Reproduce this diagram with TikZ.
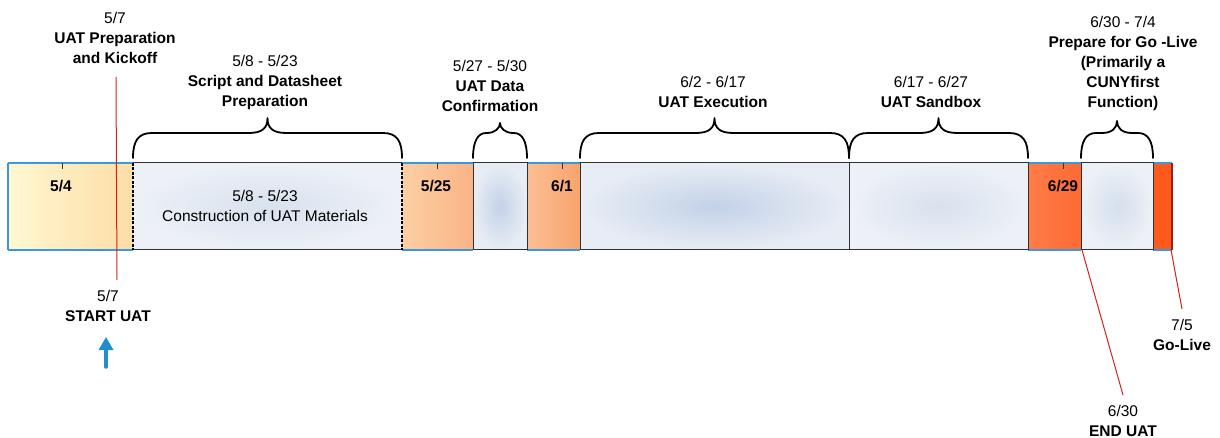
\documentclass[tikz,border=0pt]{standalone}
\usepackage{fontspec}
\setmainfont{Liberation Sans}
\usetikzlibrary{arrows.meta}
\definecolor{yl1}{HTML}{FFF8D2}
\definecolor{yl2}{HTML}{FCDDA5}
\definecolor{orA1}{HTML}{FDCFA3}
\definecolor{orA2}{HTML}{F9B487}
\definecolor{orB1}{HTML}{FBBE93}
\definecolor{orB2}{HTML}{F8A46E}
\definecolor{rdA1}{HTML}{FF7C48}
\definecolor{rdA2}{HTML}{FE6A33}
\definecolor{rdB}{HTML}{FF5A1E}
\definecolor{edgeblue}{HTML}{3A9AD9}
\definecolor{boxline}{HTML}{2E3236}
\definecolor{redln}{HTML}{D0241A}
\definecolor{arrowblue}{HTML}{1E8FCB}
\definecolor{bxout}{HTML}{E8EDF5}
\definecolor{bxin}{HTML}{C3D1E7}
\definecolor{bxlight}{HTML}{EDF1F7}
\definecolor{bxlightin}{HTML}{D8E1EE}
\begin{document}
\begin{tikzpicture}[x=1pt,y=-1pt,
  lbl/.style={align=center, font=\fontsize{15.5}{20}\selectfont, inner sep=0pt, anchor=base},
  barlbl/.style={font=\fontsize{15.5}{20}\selectfont\bfseries, inner sep=0pt, anchor=base},
  boxedge/.style={draw=boxline, line width=1pt},
  bracestyle/.style={draw=black, line width=1.8pt, line join=round, line cap=round},
  redline/.style={draw=redln, line width=1pt},
  tickmark/.style={draw=black!80, line width=0.9pt},
  bluedge/.style={draw=edgeblue, line width=1.3pt}]
\useasboundingbox[fill=white] (0,0) rectangle (1220,438);

% ---- bar segments ----
\path[left color=yl1, right color=yl2] (8,163) rectangle (133,250);
\path[left color=orA1, right color=orA2] (402,163) rectangle (473,250);
\path[left color=orB1, right color=orB2] (527,163) rectangle (580,250);
\path[left color=rdA1, right color=rdA2] (1028,163) rectangle (1081,250);
\path[fill=rdB] (1153,163) rectangle (1172,250);

% blue edges of the coloured segments
\draw[bluedge] (8,163) -- (133,163) (8,250) -- (133,250) (8,163) -- (8,250);
\draw[bluedge] (402,163) -- (473,163) (402,250) -- (473,250);
\draw[bluedge] (527,163) -- (580,163) (527,250) -- (580,250);
\draw[bluedge] (1028,163) -- (1081,163) (1028,250) -- (1081,250);
\draw[bluedge] (1153,163) -- (1172,163) (1153,250) -- (1172,250);
\draw[draw=redln!80!black, line width=1.2pt] (1172,163) -- (1172,250);

% light boxes
\path[inner color=bxlightin, outer color=bxlight] (133,163) rectangle (402,250);
\draw[boxedge] (133,163) -- (402,163) (133,250) -- (402,250);
\draw[black, line width=1.2pt, dash pattern=on 3pt off 1.5pt] (133,163) -- (133,250) (402,163) -- (402,250);

\path[inner color=bxin, outer color=bxout] (473,163) rectangle (527,250);
\draw[boxedge] (473,163) rectangle (527,250);
\path[inner color=bxin, outer color=bxout] (580,163) rectangle (849,250);
\draw[boxedge] (580,163) rectangle (849,250);
\path[inner color=bxlightin, outer color=bxlight] (849,163) rectangle (1028,250);
\draw[boxedge] (849,163) rectangle (1028,250);
\path[inner color=bxlightin!85!bxin, outer color=bxlight] (1081,163) rectangle (1153,250);
\draw[boxedge] (1081,163) rectangle (1153,250);

% ticks
\foreach \t in {62,437,562,1063}{\draw[tickmark] (\t,163) -- (\t,169);}

% bar labels
\node[barlbl] (l54) at (61,192) {5/4};
\node[barlbl] (l525) at (436,192) {5/25};
\node[barlbl] (l61) at (562,192) {6/1};
\node[barlbl] (l629) at (1063,192) {6/29};
\node[lbl] (lconst) at (265,222) {5/8 - 5/23\\Construction of UAT Materials};

% ---- braces ----
\foreach \a/\b/\r/\tp in {133/402/19/118, 473/527/13/123, 580/849/19/118, 849/1028/19/118, 1081/1153/15/121}{
  \pgfmathsetmacro\m{(\a+\b)/2}
  \draw[bracestyle] (\a,158) .. controls (\a,141) and (\a+5,133) .. (\a+\r,133) -- (\m-\r,133)
     .. controls (\m-5,133) and (\m,128) .. (\m,\tp) .. controls (\m,128) and (\m+5,133) .. (\m+\r,133)
     -- (\b-\r,133) .. controls (\b-5,133) and (\b,141) .. (\b,158);
}

% ---- top labels ----
\node[lbl] (tkick) at (115,64) {5/7\\\textbf{UAT Preparation}\\\textbf{and Kickoff}};
\node[lbl] (tscript) at (265,107) {5/8 - 5/23\\\textbf{Script and Datasheet}\\\textbf{Preparation}};
\node[lbl] (tdata) at (490,112) {5/27 - 5/30\\\textbf{UAT Data}\\\textbf{Confirmation}};
\node[lbl] (texec) at (713,108) {6/2 - 6/17\\\textbf{UAT Execution}};
\node[lbl] (tsand) at (931,108) {6/17 - 6/27\\\textbf{UAT Sandbox}};
\node[lbl] (tgo) at (1123,108) {6/30 - 7/4\\\textbf{Prepare for Go -Live}\\\textbf{(Primarily a}\\\textbf{CUNYfirst}\\\textbf{Function)}};

% ---- bottom labels ----
\node[lbl] (bstart) at (108,321) {5/7\\\textbf{START UAT}};
\node[lbl] (bend) at (1123,436) {6/30\\\textbf{END UAT}};
\node[lbl] (blive) at (1182,350) {7/5\\\textbf{Go-Live}};

% ---- connectors ----
\coordinate (k1) at (116,77);
\coordinate (k2) at (117,280);
\draw[redline] (k1) -- (k2);
\coordinate (e1) at (1082,250);
\coordinate (e2) at (1123,395);
\draw[redline] (e1) -- (e2);
\coordinate (g1) at (1171,250);
\coordinate (g2) at (1182,309);
\draw[redline] (g1) -- (g2);
\coordinate (a1) at (106,367);
\coordinate (a2) at (106,337);
\draw[arrowblue, line width=3.5pt, line cap=round, -{Triangle[width=14pt,length=13pt]}] (a1) -- (a2);
\end{tikzpicture}
\end{document}
